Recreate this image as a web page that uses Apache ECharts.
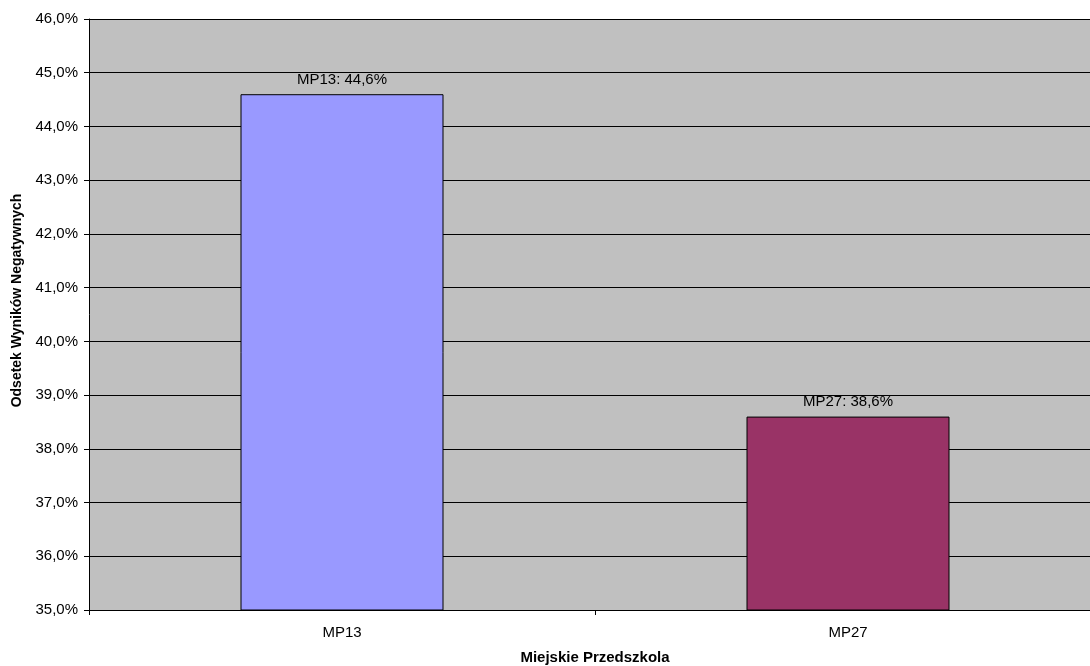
<!DOCTYPE html>
<html>
<head>
<meta charset="utf-8">
<script src="https://cdn.jsdelivr.net/npm/echarts@6/dist/echarts.min.js"></script>
<style>
  html, body { margin: 0; padding: 0; background: #ffffff; overflow: hidden; }
  #chart { width: 1101px; height: 666px; }
</style>
</head>
<body>
<div id="chart"></div>
<script>
// Odsetek wyników negatywnych w miejskich przedszkolach
const categories = ['MP13', 'MP27'];
const values = [44.6, 38.6];
const barColors = ['#9999FF', '#993366'];
const yTicks = { min: 35, max: 46, step: 1 };

const fmtPct = v => v.toFixed(1).replace('.', ',') + '%';
const FONT = '"Liberation Sans", Arial, sans-serif';

const chart = echarts.init(document.getElementById('chart'));
chart.setOption({
  animation: false,
  textStyle: { fontFamily: FONT },
  grid: {
    left: 89, right: 0, top: 19, bottom: 56,
    containLabel: false,
    outerBoundsMode: 'none',
    show: true, backgroundColor: '#C0C0C0', borderWidth: 0
  },
  xAxis: {
    type: 'category',
    data: categories,
    name: 'Miejskie Przedszkola',
    nameLocation: 'middle',
    nameGap: 40,
    nameTextStyle: { fontFamily: FONT, fontSize: 15, fontWeight: 'bold', color: '#000' },
    axisLine: { lineStyle: { color: '#000', width: 1 } },
    axisTick: { show: true, length: 5, alignWithLabel: false, lineStyle: { color: '#000' } },
    axisLabel: { fontFamily: FONT, fontSize: 15, color: '#000', margin: 15 },
    splitLine: { show: false }
  },
  yAxis: {
    type: 'value',
    min: yTicks.min, max: yTicks.max, interval: yTicks.step,
    name: 'Odsetek Wyników Negatywnych',
    nameLocation: 'middle',
    nameGap: 63,
    nameTextStyle: {
      fontFamily: FONT, fontSize: 14, fontWeight: 'bold', color: '#000',
      padding: [0, 0, 0, 28]
    },
    axisLine: { show: true, lineStyle: { color: '#000', width: 1 } },
    axisTick: { show: true, length: 5, lineStyle: { color: '#000' } },
    axisLabel: { fontFamily: FONT, fontSize: 15, color: '#000', margin: 11, formatter: fmtPct },
    splitLine: { show: true, lineStyle: { color: '#000', width: 1 } }
  },
  series: [{
    type: 'bar',
    barWidth: 203,
    data: values.map((v, i) => ({
      value: v,
      itemStyle: { color: barColors[i], borderColor: '#000', borderWidth: 1 }
    })),
    label: {
      show: true,
      position: 'top',
      distance: 7,
      fontFamily: FONT,
      fontSize: 15,
      color: '#000',
      formatter: p => p.name + ': ' + fmtPct(p.value)
    }
  }]
});
</script>
</body>
</html>
